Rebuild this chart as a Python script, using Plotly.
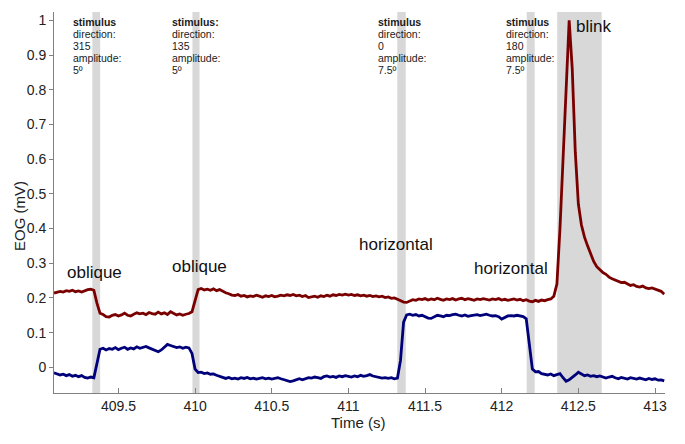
import plotly.graph_objects as go

# ---------------- data ----------------
t_start = 409.08   # first sample time (s)
dt = 0.02          # sample interval (s)

# vertical EOG channel (dark red), one row = 10 samples
eog_red = [
    0.214, 0.216, 0.219, 0.217, 0.221, 0.219, 0.222, 0.218, 0.220, 0.217,  # 409.08
    0.221, 0.224, 0.225, 0.222, 0.185, 0.156, 0.152, 0.146, 0.145, 0.150,  # 409.28
    0.152, 0.148, 0.151, 0.156, 0.150, 0.148, 0.153, 0.157, 0.154, 0.156,  # 409.48
    0.152, 0.158, 0.155, 0.153, 0.159, 0.154, 0.157, 0.152, 0.160, 0.155,  # 409.68
    0.151, 0.154, 0.150, 0.153, 0.155, 0.160, 0.195, 0.224, 0.227, 0.223,  # 409.88
    0.225, 0.222, 0.226, 0.221, 0.224, 0.219, 0.215, 0.212, 0.208, 0.207,  # 410.08
    0.210, 0.205, 0.207, 0.203, 0.206, 0.204, 0.208, 0.205, 0.202, 0.206,  # 410.28
    0.204, 0.207, 0.203, 0.205, 0.208, 0.206, 0.209, 0.207, 0.210, 0.206,  # 410.48
    0.208, 0.204, 0.207, 0.201, 0.203, 0.205, 0.202, 0.206, 0.204, 0.208,  # 410.68
    0.205, 0.209, 0.207, 0.210, 0.208, 0.211, 0.208, 0.210, 0.207, 0.209,  # 410.88
    0.206, 0.208, 0.205, 0.207, 0.204, 0.206, 0.203, 0.205, 0.201, 0.203,  # 411.08
    0.199, 0.200, 0.196, 0.192, 0.188, 0.187, 0.191, 0.195, 0.193, 0.197,  # 411.28
    0.195, 0.198, 0.194, 0.197, 0.195, 0.199, 0.196, 0.193, 0.197, 0.195,  # 411.48
    0.198, 0.194, 0.197, 0.199, 0.195, 0.198, 0.196, 0.193, 0.197, 0.195,  # 411.68
    0.198, 0.196, 0.194, 0.197, 0.195, 0.198, 0.194, 0.196, 0.193, 0.195,  # 411.88
    0.197, 0.194, 0.196, 0.192, 0.195, 0.191, 0.189, 0.193, 0.190, 0.194,  # 412.08
    0.192, 0.195, 0.197, 0.205, 0.240, 0.400, 0.580, 0.800, 1.000, 0.860,  # 412.28
    0.620, 0.470, 0.410, 0.375, 0.350, 0.325, 0.305, 0.290, 0.281, 0.273,  # 412.48
    0.268, 0.260, 0.255, 0.252, 0.248, 0.244, 0.245, 0.240, 0.236, 0.238,  # 412.68
    0.233, 0.231, 0.234, 0.229, 0.227, 0.229, 0.225, 0.223, 0.219, 0.211,  # 412.88
]

# horizontal EOG channel (navy)
eog_blue = [
    -0.016, -0.019, -0.022, -0.020, -0.024, -0.021, -0.026, -0.023, -0.027, -0.024,  # 409.08
    -0.029, -0.031, -0.028, -0.030, 0.015, 0.052, 0.055, 0.050, 0.054, 0.052,        # 409.28
    0.057, 0.051, 0.055, 0.058, 0.052, 0.056, 0.053, 0.059, 0.055, 0.058,            # 409.48
    0.060, 0.056, 0.052, 0.047, 0.045, 0.050, 0.058, 0.066, 0.063, 0.060,            # 409.68
    0.057, 0.059, 0.055, 0.058, 0.056, 0.040, -0.005, -0.015, -0.014, -0.018,        # 409.88
    -0.016, -0.020, -0.019, -0.023, -0.026, -0.030, -0.032, -0.029, -0.033, -0.031,  # 410.08
    -0.034, -0.030, -0.032, -0.029, -0.033, -0.031, -0.034, -0.032, -0.030, -0.033,  # 410.28
    -0.031, -0.034, -0.032, -0.030, -0.033, -0.035, -0.038, -0.041, -0.039, -0.036,  # 410.48
    -0.033, -0.036, -0.032, -0.030, -0.031, -0.028, -0.030, -0.032, -0.027, -0.025,  # 410.68
    -0.028, -0.026, -0.029, -0.025, -0.027, -0.024, -0.026, -0.028, -0.025, -0.027,  # 410.88
    -0.023, -0.026, -0.024, -0.021, -0.025, -0.027, -0.029, -0.031, -0.030, -0.032,  # 411.08
    -0.030, -0.033, -0.031, 0.020, 0.130, 0.151, 0.153, 0.150, 0.152, 0.148,         # 411.28
    0.150, 0.146, 0.142, 0.141, 0.145, 0.150, 0.148, 0.146, 0.150, 0.149,            # 411.48
    0.152, 0.153, 0.150, 0.148, 0.151, 0.147, 0.149, 0.150, 0.152, 0.149,            # 411.68
    0.151, 0.153, 0.150, 0.148, 0.149, 0.146, 0.139, 0.143, 0.148, 0.149,            # 411.88
    0.148, 0.150, 0.149, 0.146, 0.140, 0.060, -0.005, -0.013, -0.012, -0.018,        # 412.08
    -0.020, -0.022, -0.019, -0.024, -0.021, -0.018, -0.030, -0.040, -0.036, -0.030,  # 412.28
    -0.022, -0.014, -0.018, -0.024, -0.022, -0.026, -0.024, -0.027, -0.025, -0.029,  # 412.48
    -0.031, -0.028, -0.026, -0.030, -0.033, -0.029, -0.031, -0.034, -0.030, -0.032,  # 412.68
    -0.034, -0.031, -0.033, -0.036, -0.032, -0.035, -0.033, -0.037, -0.036, -0.039,  # 412.88
]

time_s = [round(t_start + dt * i, 2) for i in range(len(eog_red))]

# shaded event windows (s)
band_starts = [409.330, 409.983, 411.319, 412.163, 412.362]
band_ends = [409.381, 410.029, 411.374, 412.215, 412.652]

# stimulus descriptions
stim_x = [409.199, 409.844, 411.185, 412.021]
stim_head = ["stimulus", "stimulus:", "stimulus", "stimulus"]
stim_dir = ["315", "135", "0", "180"]
stim_amp = ["5º", "5º", "7.5º", "7.5º"]

# movement labels
move_text = ["oblique", "oblique", "horizontal", "horizontal"]
move_x = [409.345, 410.029, 411.311, 412.062]
move_y = [0.274, 0.290, 0.353, 0.285]

x_ticks = [409.5, 410, 410.5, 411, 411.5, 412, 412.5, 413]
x_tick_text = ["409.5", "410", "410.5", "411", "411.5", "412", "412.5", "413"]
y_ticks = [0, 0.1, 0.2, 0.3, 0.4, 0.5, 0.6, 0.7, 0.8, 0.9, 1.0]
y_tick_text = ["0", "0.1", "0.2", "0.3", "0.4", "0.5", "0.6", "0.7", "0.8", "0.9", "1"]

# ---------------- figure ----------------
FONT = "Liberation Sans, Arial, Helvetica, sans-serif"
Y0, Y1 = -0.074, 1.024

fig = go.Figure()
fig.add_trace(go.Scatter(x=time_s, y=eog_red, mode="lines",
                         line=dict(color="#7a0000", width=2.8), showlegend=False))
fig.add_trace(go.Scatter(x=time_s, y=eog_blue, mode="lines",
                         line=dict(color="#00007a", width=2.8), showlegend=False))

for a, b in zip(band_starts, band_ends):
    fig.add_shape(type="rect", xref="x", yref="paper", x0=a, x1=b, y0=0, y1=1,
                  fillcolor="#d8d8d8", line=dict(width=0), layer="below")

ann = []
line_px = 12.0 / 346.9  # 12 px line spacing in data units
top_center = (367.3 - 22.0) / 346.9
for xs, h, d, a in zip(stim_x, stim_head, stim_dir, stim_amp):
    lines = ["<b>" + h + "</b>", "direction:", d, "amplitude:", a]
    for k, txt in enumerate(lines):
        ann.append(dict(x=xs, y=top_center - k * line_px, xref="x", yref="y",
                        text=txt, showarrow=False, xanchor="left", yanchor="middle",
                        font=dict(family=FONT, size=10.5, color="#1a1a1a"),
                        borderpad=0))

for txt, xm, ym in zip(move_text, move_x, move_y):
    ann.append(dict(x=xm, y=ym, xref="x", yref="y", text=txt, showarrow=False,
                    xanchor="center", yanchor="middle",
                    font=dict(family=FONT, size=17, color="#111111")))

ann.append(dict(x=412.478, y=0.981, xref="x", yref="y", text="blink", showarrow=False,
                xanchor="left", yanchor="middle", borderpad=0,
                font=dict(family=FONT, size=17, color="#111111")))

ann.append(dict(x=-0.0556, y=0.4646, xref="paper", yref="paper", text="EOG (mV)",
                textangle=-90, showarrow=False, xanchor="center", yanchor="middle",
                font=dict(family=FONT, size=15, color="#222222")))
ann.append(dict(x=0.4975, y=-0.0787, xref="paper", yref="paper", text="Time (s)",
                showarrow=False, xanchor="center", yanchor="middle",
                font=dict(family=FONT, size=15, color="#222222")))

# the page body adds an 8px offset, so the figure is sized/margined to compensate
fig.update_layout(
    width=677, height=436,
    margin=dict(l=46, r=20, t=4, b=51, pad=0),
    paper_bgcolor="white", plot_bgcolor="white",
    annotations=ann,
    xaxis=dict(range=[409.08, 413.065], tickmode="array", tickvals=x_ticks,
               ticktext=x_tick_text, ticks="inside", ticklen=5, tickcolor="#808080",
               showline=True, linecolor="#808080", linewidth=1, showgrid=False,
               zeroline=False, tickfont=dict(family=FONT, size=14, color="#222222")),
    yaxis=dict(range=[Y0, Y1], tickmode="array", tickvals=y_ticks,
               ticktext=y_tick_text, ticks="outside", ticklen=4, tickcolor="#808080",
               showline=True, linecolor="#808080", linewidth=1, showgrid=False,
               zeroline=False, tickfont=dict(family=FONT, size=14, color="#222222")),
)

fig.write_html("out.html")
